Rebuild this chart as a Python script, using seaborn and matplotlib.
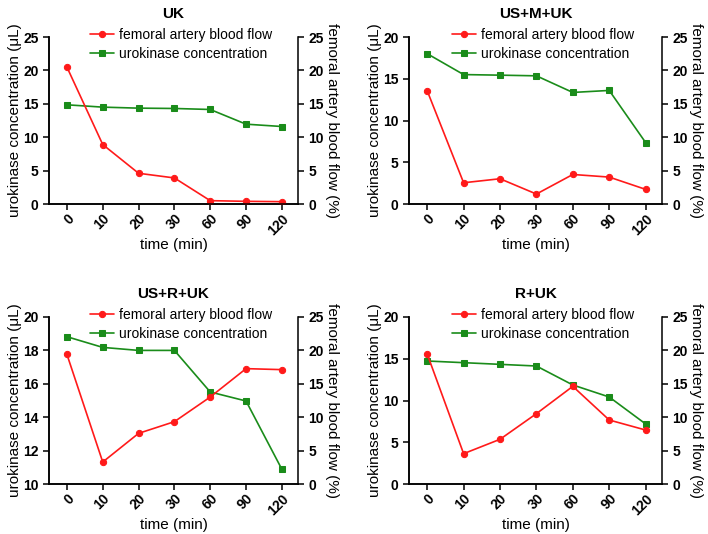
import numpy as np
import pandas as pd
import seaborn as sns
import matplotlib.pyplot as plt

# time points (categorical x axis)
times = ['0', '10', '20', '30', '60', '90', '120']

# panel titles
titles = ['UK', 'US+M+UK', 'US+R+UK', 'R+UK']

# urokinase concentration (left axis, green)
uk_conc = [14.85, 14.5, 14.35, 14.3, 14.15, 11.95, 11.6]
usmuk_conc = [18.0, 15.5, 15.43, 15.35, 13.36, 13.6, 7.36]
usruk_conc = [18.82, 18.18, 18.0, 18.0, 15.51, 14.97, 10.88]
ruk_conc = [14.73, 14.53, 14.33, 14.13, 11.86, 10.42, 7.19]

# femoral artery blood flow (right axis, red)
uk_flow = [20.5, 8.9, 4.6, 3.9, 0.5, 0.4, 0.35]
usmuk_flow = [16.95, 3.18, 3.78, 1.49, 4.42, 4.03, 2.19]
usruk_flow = [19.41, 3.29, 7.58, 9.33, 13.02, 17.27, 17.12]
ruk_flow = [19.46, 4.54, 6.69, 10.53, 14.62, 9.58, 8.08]

# left axis ranges / tick steps
left_lims = [(0, 25, 5), (0, 20, 5), (10, 20, 2), (0, 20, 5)]

RED = '#ff1a1a'
GREEN = '#1a8c1a'

sns.set_style('ticks')
plt.rcParams['font.family'] = ['Liberation Sans', 'DejaVu Sans']
plt.rcParams['axes.linewidth'] = 1.1
for k in ['text.color', 'axes.labelcolor', 'xtick.color', 'ytick.color', 'axes.edgecolor']:
    plt.rcParams[k] = 'black'

fig = plt.figure(figsize=(7.08, 5.34), dpi=100)

W, H = 708, 534
boxes = [(49, 37, 298, 204), (409, 37, 662, 204),
         (49, 317, 298, 484), (409, 317, 662, 484)]

conc_all = [uk_conc, usmuk_conc, usruk_conc, ruk_conc]
flow_all = [uk_flow, usmuk_flow, usruk_flow, ruk_flow]

for i in range(4):
    x0, y0, x1, y1 = boxes[i]
    ax = fig.add_axes([x0 / W, 1 - y1 / H, (x1 - x0) / W, (y1 - y0) / H])
    ax2 = ax.twinx()

    df = pd.DataFrame({'pos': np.arange(len(times)),
                       'conc': conc_all[i], 'flow': flow_all[i]})

    sns.lineplot(data=df, x='pos', y='conc', ax=ax, color=GREEN, marker='s',
                 markersize=4.5, markeredgecolor=GREEN, linewidth=1.2,
                 label='urokinase concentration', legend=False)
    sns.lineplot(data=df, x='pos', y='flow', ax=ax2, color=RED, marker='o',
                 markersize=4.5, markeredgecolor=RED, linewidth=1.2,
                 label='femoral artery blood flow', legend=False)

    lo, hi, step = left_lims[i]
    ax.set_ylim(lo, hi)
    ax.set_yticks(np.arange(lo, hi + 0.01, step))
    ax2.set_ylim(0, 25)
    ax2.set_yticks(np.arange(0, 25.01, 5))
    ax.set_xlim(-0.5, 6.45)
    ax.set_xticks(np.arange(len(times)))
    ax.set_xticklabels(times, rotation=45, ha='right', rotation_mode='anchor',
                       fontweight='bold', fontsize=10)
    ax.tick_params(axis='x', pad=1.5)

    for a in (ax, ax2):
        a.tick_params(axis='y', width=1.1, length=4, labelsize=10)
        for lab in a.get_yticklabels():
            lab.set_fontweight('bold')
        a.spines['top'].set_visible(False)
        a.spines['right'].set_visible(True)
    ax.tick_params(axis='x', width=1.1, length=4)
    ax.spines['right'].set_visible(False)

    ax.set_xlabel('time (min)', fontsize=11, labelpad=0)
    ax.set_ylabel('urokinase concentration (μL)', fontsize=11, labelpad=1)
    ax2.set_ylabel('femoral artery blood flow (%)', fontsize=11,
                   rotation=270, labelpad=11)
    ax.set_title(titles[i], fontsize=11, fontweight='bold', pad=14)

    h1, l1 = ax.get_legend_handles_labels()
    h2, l2 = ax2.get_legend_handles_labels()
    ax2.legend(h2 + h1, l2 + l1, loc='center', bbox_to_anchor=(0.53, 0.955),
               frameon=False, fontsize=10, handlelength=1.7,
               handletextpad=0.35, labelspacing=0.35)

fig.savefig('out.png', dpi=100)
